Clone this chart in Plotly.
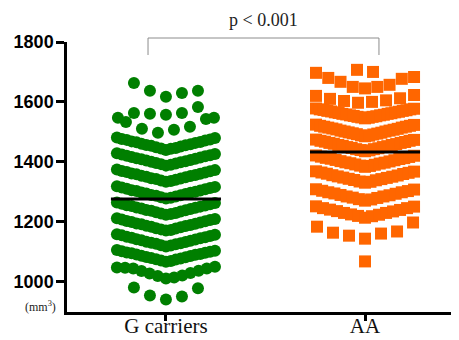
import numpy as np
import plotly.graph_objects as go

# ---------------- data (rows listed left to right) ----
group_labels = ["G carriers", "AA"]
y_ticks = [1000, 1200, 1400, 1600, 1800]
p_label = "p < 0.001"
unit_label = "(mm<sup>3</sup>)"

g_carriers_rows = [
    [1663, 1637, 1617, 1630, 1637],
    [1547, 1563, 1560, 1557, 1563, 1583, 1547],
    [1533, 1510, 1497, 1507, 1517, 1543],
    [1481, 1476, 1473, 1468, 1465, 1460, 1456, 1453, 1448, 1444, 1439,
     1443, 1446, 1451, 1455, 1458, 1463, 1466, 1471, 1474, 1479],
    [1428, 1424, 1420, 1416, 1412, 1408, 1404, 1400, 1396, 1392, 1387,
     1390, 1394, 1398, 1402, 1406, 1410, 1414, 1418, 1422, 1426],
    [1374, 1369, 1366, 1361, 1358, 1353, 1350, 1345, 1342, 1337, 1333,
     1336, 1340, 1344, 1348, 1352, 1356, 1360, 1364, 1368, 1372],
    [1318, 1314, 1310, 1305, 1302, 1297, 1294, 1289, 1286, 1281, 1277,
     1280, 1284, 1288, 1292, 1296, 1300, 1304, 1308, 1312, 1316],
    [1264, 1260, 1255, 1252, 1247, 1244, 1239, 1236, 1231, 1227, 1223,
     1225, 1229, 1234, 1238, 1242, 1246, 1250, 1254, 1258, 1262],
    [1211, 1207, 1202, 1199, 1194, 1191, 1186, 1183, 1178, 1174, 1170,
     1172, 1177, 1181, 1185, 1189, 1193, 1197, 1201, 1205, 1209],
    [1158, 1154, 1149, 1146, 1141, 1138, 1133, 1129, 1126, 1121, 1117,
     1120, 1124, 1128, 1132, 1136, 1140, 1144, 1148, 1152, 1156],
    [1105, 1101, 1097, 1094, 1090, 1086, 1082, 1078, 1074, 1070, 1066,
     1068, 1073, 1077, 1081, 1085, 1089, 1092, 1096, 1099, 1103],
    [1047, 1046, 1043, 1035, 1027, 1018, 1010, 1013, 1020, 1028, 1036, 1043, 1049],
    [980, 953, 940, 950, 977],
]

aa_rows = [
    [1707, 1700],
    [1697, 1680, 1667, 1650, 1645, 1650, 1657, 1677, 1683],
    [1620, 1610, 1603, 1597, 1600, 1605, 1612, 1623],
    [1578, 1575, 1573, 1570, 1568, 1565, 1563, 1560, 1558, 1555, 1553, 1550, 1548, 1545,
     1547, 1550, 1552, 1555, 1557, 1560, 1562, 1565, 1567, 1570, 1572, 1575, 1577],
    [1524, 1520, 1517, 1514, 1511, 1508, 1504, 1501, 1498, 1495, 1492, 1488, 1485,
     1487, 1491, 1494, 1497, 1501, 1504, 1507, 1510, 1514, 1517, 1520, 1523],
    [1474, 1470, 1467, 1463, 1460, 1456, 1453, 1449, 1446, 1442, 1439, 1435,
     1438, 1442, 1445, 1449, 1452, 1456, 1459, 1463, 1466, 1470, 1473],
    [1421, 1417, 1413, 1410, 1406, 1402, 1398, 1395, 1391, 1387, 1383,
     1386, 1390, 1394, 1397, 1401, 1405, 1409, 1412, 1416, 1420],
    [1368, 1364, 1360, 1355, 1351, 1347, 1343, 1339, 1334, 1330,
     1333, 1338, 1342, 1346, 1350, 1354, 1359, 1363, 1367],
    [1308, 1303, 1298, 1294, 1289, 1284, 1280, 1275, 1270,
     1274, 1279, 1284, 1288, 1293, 1298, 1302, 1307],
    [1251, 1245, 1240, 1235, 1229, 1224, 1219, 1213,
     1218, 1223, 1229, 1234, 1239, 1245, 1250],
    [1183, 1163, 1153, 1143, 1160, 1167, 1197],
    [1067],
]

# ---------------- layout helpers ----------------
PX_PER_UNIT = 199.0      # horizontal pixels per category step
MAX_SPREAD_PX = 98.0     # max distance between outermost marker centres in a row
MAX_STEP_PX = 16.0

# page offset of the figure (default body margin) and target pixel frame
OFF = 8
W, H = 459 - OFF, 340 - OFF
L, R, T, B = 67 - OFF, 1, 42 - OFF, H - (312 - OFF)
plot_w = W - L - R
plot_h = H - T - B


def dot_positions(rows, center):
    xs, ys = [], []
    for row in rows:
        n = len(row)
        step = min(MAX_STEP_PX, MAX_SPREAD_PX / (n - 1)) if n > 1 else 0.0
        for i, v in enumerate(row):
            xs.append(center + (i - (n - 1) / 2.0) * step / PX_PER_UNIT)
            ys.append(v)
    return xs, ys


def px_to_paper(px, py):
    return ((px - OFF - L) / plot_w, (H - B - (py - OFF)) / plot_h)


gx, gy = dot_positions(g_carriers_rows, 0)
ax, ay = dot_positions(aa_rows, 1)
g_mean = float(np.mean(gy))
a_mean = float(np.mean(ay))
half = 55 / PX_PER_UNIT

fig = go.Figure()
fig.add_trace(go.Scatter(x=gx, y=gy, mode="markers",
                         marker=dict(symbol="circle", size=12, color="#007F00", line=dict(width=0)),
                         showlegend=False, hoverinfo="y"))
fig.add_trace(go.Scatter(x=ax, y=ay, mode="markers",
                         marker=dict(symbol="square", size=12, color="#FF6600", line=dict(width=0)),
                         showlegend=False, hoverinfo="y"))
for c, m in [(0, g_mean), (1, a_mean)]:
    fig.add_trace(go.Scatter(x=[c - half, c + half], y=[m, m], mode="lines",
                             line=dict(color="black", width=3), showlegend=False,
                             hoverinfo="skip"))

# significance bracket
_, yb_top = px_to_paper(0, 38)
_, yb_bot = px_to_paper(0, 55)
fig.add_shape(type="path", xref="x", yref="paper",
              path=f"M -0.09 {yb_bot} L -0.09 {yb_top} L 1.07 {yb_top} L 1.07 {yb_bot}",
              line=dict(color="#8c8c8c", width=1))
_, yp = px_to_paper(0, 20)
fig.add_annotation(x=0.49, y=yp, xref="x", yref="paper", text=p_label,
                   showarrow=False, xanchor="center", yanchor="middle",
                   font=dict(family="Liberation Serif", size=18, color="#222"))
ux, uy = px_to_paper(40, 306)
fig.add_annotation(x=ux, y=uy, xref="paper", yref="paper", text=unit_label,
                   showarrow=False, xanchor="center", yanchor="middle",
                   font=dict(family="Liberation Serif", size=12, color="#222"))

fig.update_layout(
    width=W, height=H,
    margin=dict(l=L, r=R, t=T, b=B, autoexpand=False),
    paper_bgcolor="white", plot_bgcolor="white",
    xaxis=dict(range=[-0.497, 1.467], tickvals=[0, 1], ticktext=group_labels,
               showline=True, linecolor="black", linewidth=2.5, ticks="outside",
               ticklen=6, tickwidth=2.5, tickcolor="black", showgrid=False, zeroline=False,
               automargin=False, ticklabelstandoff=-13,
               tickfont=dict(family="Liberation Serif", size=21, color="#111")),
    yaxis=dict(range=[898, 1800], tickvals=y_ticks,
               showline=True, linecolor="black", linewidth=2.5, ticks="outside",
               ticklen=8, tickwidth=2.5, tickcolor="black", showgrid=False, zeroline=False,
               automargin=False, ticklabelstandoff=-1,
               tickfont=dict(family="Liberation Sans", size=18, color="black", weight="bold")),
)

fig.write_html("out.html")
